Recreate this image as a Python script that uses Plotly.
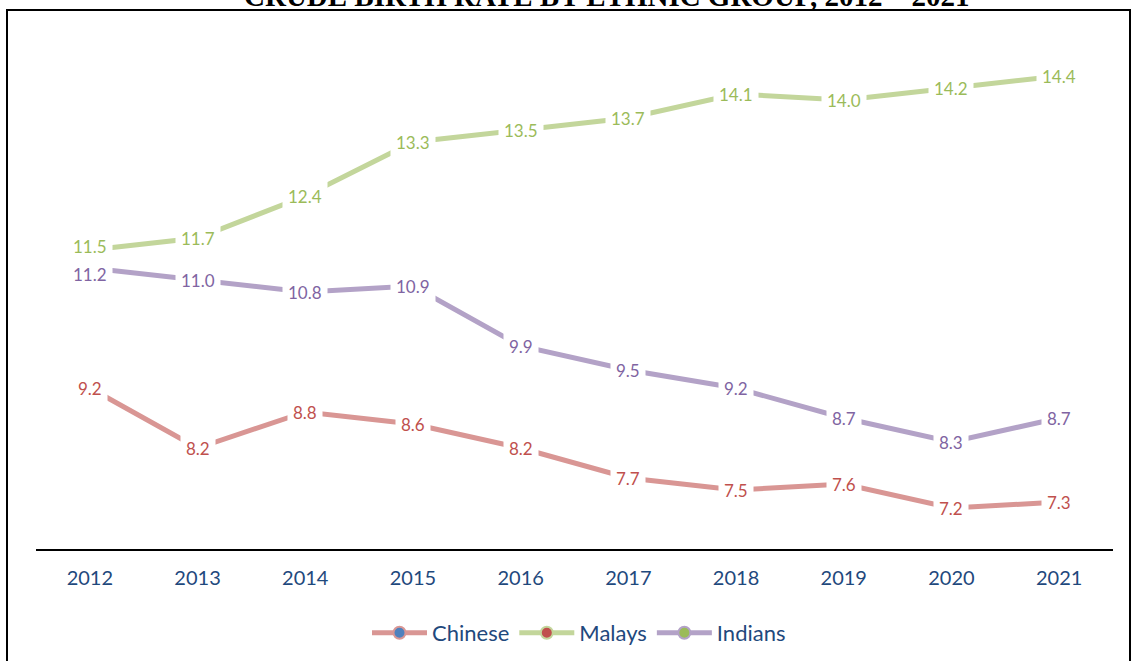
import plotly.graph_objects as go

years = [2012, 2013, 2014, 2015, 2016, 2017, 2018, 2019, 2020, 2021]
chinese = [9.2, 8.2, 8.8, 8.6, 8.2, 7.7, 7.5, 7.6, 7.2, 7.3]
malays = [11.5, 11.7, 12.4, 13.3, 13.5, 13.7, 14.1, 14.0, 14.2, 14.4]
indians = [11.2, 11.0, 10.8, 10.9, 9.9, 9.5, 9.2, 8.7, 8.3, 8.7]
series_names = ["Chinese", "Malays", "Indians"]
title_text = "CRUDE BIRTH RATE BY ETHNIC GROUP, 2012 – 2021"

W, H = 1132, 661
ML, MR, MT, MB = 36, 19, 40, 112
PW, PH = W - ML - MR, H - MT - MB

def px_x(p):
    return (p - ML) / PW

def px_y(p):
    return (H - MB - p) / PH

FONT = "Lato"
line_colors = ["#D99694", "#C3D69B", "#B3A2C7"]
label_colors = ["#C0504D", "#9BBB59", "#8064A2"]
legend_fill = ["#4F81BD", "#C0504D", "#9BBB59"]
TEXT_BLUE = "#1F497D"

fig = go.Figure()
all_series = [chinese, malays, indians]
for vals, name, lc in zip(all_series, series_names, line_colors):
    fig.add_trace(go.Scatter(x=years, y=vals, mode="lines", name=name,
                             line=dict(color=lc, width=5), showlegend=False,
                             hoverinfo="skip"))
# legend-only entries (Excel-style markers)
for name, lc, fc in zip(series_names, line_colors, legend_fill):
    fig.add_trace(go.Scatter(x=[years[0]], y=[None], mode="lines+markers", name=name,
                             line=dict(color=lc, width=5),
                             marker=dict(color=fc, size=12, line=dict(color=lc, width=2))))

# label offsets (Excel nudged overlapping labels)
shifts = {(1, 0): 4, (2, 0): -6}
for si, (vals, tc) in enumerate(zip(all_series, label_colors)):
    for i, (yr, v) in enumerate(zip(years, vals)):
        fig.add_annotation(x=yr, y=v, xref="x", yref="y", text=f"{v:.1f}",
                           showarrow=False, bgcolor="white", borderpad=5,
                           yshift=shifts.get((si, i), 0),
                           font=dict(family=FONT, size=17, color=tc))

# title (cut off at top like the reference)
fig.add_annotation(x=px_x(606), y=px_y(-4.5), xref="paper", yref="paper",
                   text=f"<b>{title_text}</b>", showarrow=False,
                   xanchor="center", yanchor="middle",
                   font=dict(family="Liberation Serif", size=29, color="black"))

# outer border
fig.add_shape(type="rect", xref="paper", yref="paper",
              x0=px_x(7), x1=px_x(1130), y0=px_y(675), y1=px_y(10),
              line=dict(color="black", width=2), fillcolor="rgba(0,0,0,0)", layer="below")

fig.update_layout(
    width=W, height=H,
    margin=dict(l=ML, r=MR, t=MT, b=MB, autoexpand=False),
    paper_bgcolor="white", plot_bgcolor="white",
    font=dict(family=FONT, color=TEXT_BLUE),
    showlegend=True,
    legend=dict(orientation="h", x=px_x(579), xanchor="center", y=px_y(633), yanchor="middle",
                font=dict(family=FONT, size=22, color=TEXT_BLUE), itemwidth=55,
                bgcolor="rgba(0,0,0,0)"),
    xaxis=dict(range=[years[0] - 0.5, years[-1] + 0.5], tickmode="array",
               tickvals=years, ticktext=[str(y) for y in years],
               showgrid=False, zeroline=False, showline=True,
               linecolor="black", linewidth=2, ticks="", ticklabelstandoff=10,
               tickfont=dict(family=FONT, size=20, color=TEXT_BLUE), fixedrange=True),
    yaxis=dict(range=[6.5167, 15.0], showgrid=False, zeroline=False, showline=False,
               showticklabels=False, ticks="", fixedrange=True),
)

fig.write_html("out.html", config={"displayModeBar": False},
               post_script="document.body.style.margin='0';document.body.style.overflow='hidden';")
